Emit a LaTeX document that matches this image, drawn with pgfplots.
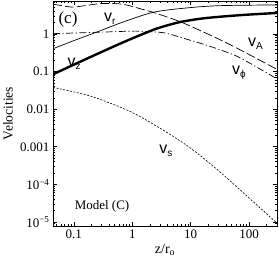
\documentclass[border=0pt]{standalone}
\usepackage{fontspec}
\setmainfont{Liberation Serif}
\setsansfont{Liberation Sans}
\usepackage{pgfplots}
\pgfplotsset{compat=1.18}
\newcommand\vl[1]{{\sffamily\fontsize{16}{16}\selectfont v\raisebox{-0.35ex}{\fontsize{10}{10}\selectfont #1}}}
\begin{document}
\begin{tikzpicture}
\begin{axis}[name=ax, scale only axis, width=224pt, height=225pt,
 xmode=log, ymode=log, xmin=0.044, xmax=300, ymin=7.8e-6, ymax=7.55,
 axis line style={line width=0.8pt},
 tick align=inside, major tick length=4pt, minor tick length=2pt,
 every tick/.style={black, line width=0.6pt},
 xtick={0.1,1,10,100}, xticklabels={0.1,1,10,100},
 minor xtick={0.05,0.06,0.07,0.08,0.09,0.2,0.3,0.4,0.5,0.6,0.7,0.8,0.9,2,3,4,5,6,7,8,9,20,30,40,50,60,70,80,90,200,300},
 ytick={1e-5,1e-4,1e-3,1e-2,0.1,1},
 yticklabels={10\textsuperscript{−5},10\textsuperscript{−4},0.001,0.01,0.1,1},
 minor ytick={9e-6,2e-5,3e-5,4e-5,5e-5,6e-5,7e-5,8e-5,9e-5,2e-4,3e-4,4e-4,5e-4,6e-4,7e-4,8e-4,9e-4,0.002,0.003,0.004,0.005,0.006,0.007,0.008,0.009,0.02,0.03,0.04,0.05,0.06,0.07,0.08,0.09,0.2,0.3,0.4,0.5,0.6,0.7,0.8,0.9,2,3,4,5,6,7},
 /pgf/number format/assume math mode=true,
 tick label style={font=\rmfamily\fontsize{13}{15}\selectfont},
 xlabel={z/r\textsubscript{o}}, ylabel={Velocities},
 every axis x label/.style={at={(axis description cs:0.5,-0.107)}, anchor=center, font=\rmfamily\fontsize{14}{16}\selectfont},
 every axis y label/.style={at={(axis description cs:-0.201,0.5)}, anchor=center, rotate=90, font=\rmfamily\fontsize{13.5}{16}\selectfont},
]
% v_z thick
\addplot[black, line width=2.4pt, smooth] coordinates {(0.0439,0.0847) (0.189,0.241) (0.615,0.551) (1.355,0.929) (2.45,1.343) (4.08,1.717) (7.10,2.13) (17.6,2.64) (69.8,3.17) (300,3.63)};
% v_r thin
\addplot[black, line width=0.7pt, smooth] coordinates {(0.0439,0.405) (0.1045,0.684) (0.249,1.13) (0.615,1.94) (2.26,3.77) (8.65,4.94) (31.8,5.68) (300,5.93)};
% v_A long dash
\addplot[black, line width=0.7pt, smooth, dash pattern=on 9pt off 3pt] coordinates {(0.0439,6.23) (0.0705,5.51) (0.0966,5.18) (0.155,5.68) (0.28,6.43) (0.506,6.43) (0.75,6.04) (1.355,4.73) (2.45,3.63) (6.56,2.13) (17.6,1.08) (31.8,0.705) (69.8,0.381) (300,0.115)};
% v_phi dash-dot
\addplot[black, line width=0.7pt, smooth, dash pattern=on 7pt off 2.5pt on 1.2pt off 2.5pt] coordinates {(0.0439,1.02) (0.28,1.117) (0.913,1.188) (1.65,1.173) (3.63,1.064) (7.98,0.75) (17.6,0.518) (31.8,0.381) (69.8,0.233) (300,0.0642)};
% v_s short dash
\addplot[black, line width=0.6pt, smooth, dash pattern=on 2pt off 1.5pt] coordinates {(0.0439,0.0381) (0.1995,0.0219) (0.914,0.00873) (3.162,0.00295) (10,9.16e-4) (31.8,2.13e-4) (100,4.33e-5) (300,9.29e-6)};
\node[font=\rmfamily] at (rel axis cs:0.067,0.916) {\fontsize{17}{17}\selectfont (c)};
\node at (rel axis cs:0.254,0.92) {\vl{r}};
\node at (rel axis cs:0.094,0.72) {\vl{z}};
\node at (rel axis cs:0.904,0.811) {\vl{A}};
\node at (rel axis cs:0.83,0.68) {\vl{ϕ}};
\node at (rel axis cs:0.504,0.333) {\vl{s}};
\node[font=\rmfamily] at (rel axis cs:0.219,0.089) {\fontsize{13}{15}\selectfont Model (C)};
\end{axis}
\pgfresetboundingbox
\path ([shift={(-53pt,-36pt)}]ax.south west) rectangle ([shift={(2pt,1pt)}]ax.north east);
\end{tikzpicture}
\end{document}
